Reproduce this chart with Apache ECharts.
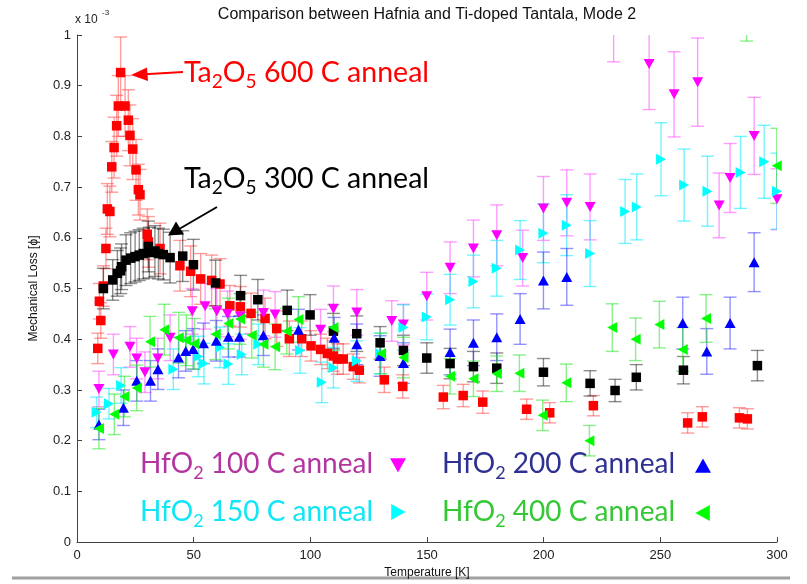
<!DOCTYPE html>
<html>
<head>
<meta charset="utf-8">
<script src="https://cdn.jsdelivr.net/npm/echarts@6/dist/echarts.min.js"></script>
<style>
  html, body { margin: 0; padding: 0; background: #fff; }
  #chart { width: 807px; height: 584px; }
</style>
</head>
<body>
<div id="chart"></div>
<script>
// Mechanical loss (units of 1e-3) vs temperature, with symmetric error half-widths.

// Ta2O5, 600 C anneal
const ta600T = [8.9, 9.6, 10.2, 11.3, 12.4, 13.0, 14.1, 14.9, 15.9, 17.0, 17.7, 18.7, 20.6, 22.0, 22.7, 23.9, 25.3, 26.3, 27.0, 30.1, 30.6, 35.6, 44.1, 48.7, 53.0, 57.7, 61.3, 65.5, 70.0, 74.6, 80.6, 85.6, 91.0, 96.3, 100.3, 104.4, 107.3, 109.9, 111.6, 114.1, 118.4, 121.0, 131.7, 139.6, 157.0, 165.5, 173.9, 192.7, 202.6, 221.3, 261.7, 268.0, 283.9, 287.3];
const ta600V = [0.382, 0.475, 0.437, 0.505, 0.579, 0.657, 0.652, 0.740, 0.778, 0.821, 0.860, 0.926, 0.860, 0.832, 0.802, 0.775, 0.734, 0.695, 0.685, 0.607, 0.592, 0.579, 0.545, 0.534, 0.519, 0.516, 0.509, 0.466, 0.464, 0.451, 0.441, 0.421, 0.401, 0.401, 0.387, 0.380, 0.372, 0.367, 0.361, 0.361, 0.346, 0.339, 0.320, 0.307, 0.286, 0.289, 0.276, 0.262, 0.255, 0.269, 0.235, 0.247, 0.245, 0.243];
const ta600E = [0.03, 0.035, 0.035, 0.04, 0.04, 0.05, 0.05, 0.05, 0.06, 0.06, 0.06, 0.07, 0.06, 0.06, 0.06, 0.06, 0.06, 0.05, 0.05, 0.05, 0.05, 0.05, 0.05, 0.05, 0.05, 0.05, 0.05, 0.04, 0.04, 0.04, 0.04, 0.035, 0.035, 0.035, 0.03, 0.03, 0.03, 0.03, 0.03, 0.03, 0.025, 0.025, 0.025, 0.023, 0.023, 0.022, 0.022, 0.02, 0.02, 0.02, 0.02, 0.02, 0.02, 0.02];

// Ta2O5, 300 C anneal
const ta300T = [11.3, 15.3, 17.3, 18.7, 19.1, 21.0, 23.0, 24.9, 26.7, 28.4, 30.6, 31.0, 33.4, 34.9, 37.0, 39.9, 45.3, 49.9, 59.4, 70.1, 77.5, 90.1, 99.9, 109.9, 119.9, 129.9, 139.9, 149.9, 159.9, 169.9, 179.9, 199.9, 219.9, 230.6, 239.7, 259.9, 291.6];
const ta300V = [0.500, 0.517, 0.530, 0.535, 0.543, 0.556, 0.560, 0.563, 0.566, 0.569, 0.583, 0.571, 0.574, 0.569, 0.567, 0.561, 0.564, 0.547, 0.511, 0.486, 0.478, 0.457, 0.448, 0.416, 0.411, 0.393, 0.378, 0.363, 0.352, 0.346, 0.343, 0.335, 0.313, 0.299, 0.325, 0.339, 0.348];
const ta300E = [0.04, 0.04, 0.045, 0.045, 0.045, 0.05, 0.05, 0.05, 0.05, 0.05, 0.05, 0.05, 0.05, 0.05, 0.05, 0.05, 0.05, 0.05, 0.045, 0.04, 0.04, 0.04, 0.04, 0.035, 0.035, 0.032, 0.03, 0.03, 0.03, 0.03, 0.03, 0.027, 0.025, 0.022, 0.025, 0.027, 0.03];

// HfO2, 100 C anneal
const hf100T = [9.4, 15.6, 22.7, 25.6, 29.1, 34.6, 39.9, 49.4, 54.9, 59.9, 64.5, 70.0, 79.9, 84.9, 104.4, 109.9, 119.9, 134.9, 139.9, 149.9, 159.9, 169.9, 179.9, 191.0, 199.9, 209.9, 219.9, 230.0, 245.2, 255.9, 266.0, 275.2, 279.9, 290.2, 300.0];
const hf100V = [0.302, 0.370, 0.385, 0.362, 0.335, 0.362, 0.403, 0.455, 0.465, 0.455, 0.450, 0.445, 0.452, 0.449, 0.419, 0.460, 0.453, 0.436, 0.429, 0.485, 0.541, 0.579, 0.605, 0.560, 0.658, 0.669, 0.661, 1.040, 0.943, 0.883, 0.907, 0.664, 0.718, 0.801, 0.676];
const hf100E = [0.035, 0.04, 0.04, 0.04, 0.04, 0.04, 0.045, 0.045, 0.045, 0.045, 0.045, 0.045, 0.045, 0.045, 0.04, 0.045, 0.045, 0.04, 0.04, 0.047, 0.051, 0.056, 0.06, 0.055, 0.063, 0.065, 0.065, 0.093, 0.09, 0.084, 0.087, 0.064, 0.068, 0.076, 0.06];

// HfO2, 150 C anneal
const hf150T = [8.4, 13.7, 18.9, 41.3, 52.0, 54.4, 61.3, 64.9, 70.6, 77.7, 95.6, 104.9, 109.9, 119.9, 129.9, 139.9, 149.9, 159.9, 169.9, 179.9, 189.9, 199.9, 209.9, 219.9, 234.9, 239.9, 250.3, 260.2, 270.2, 284.4, 294.5, 300.0];
const hf150V = [0.256, 0.273, 0.309, 0.341, 0.366, 0.352, 0.384, 0.351, 0.370, 0.390, 0.378, 0.315, 0.344, 0.357, 0.372, 0.423, 0.444, 0.478, 0.514, 0.540, 0.576, 0.609, 0.625, 0.569, 0.652, 0.661, 0.755, 0.704, 0.692, 0.729, 0.750, 0.692];
const hf150E = [0.03, 0.03, 0.035, 0.04, 0.04, 0.04, 0.04, 0.04, 0.04, 0.04, 0.045, 0.04, 0.04, 0.04, 0.04, 0.045, 0.045, 0.05, 0.052, 0.055, 0.058, 0.058, 0.06, 0.065, 0.063, 0.065, 0.072, 0.071, 0.069, 0.071, 0.072, 0.075];

// HfO2, 200 C anneal
const hf200T = [9.4, 19.9, 25.6, 31.5, 34.7, 43.5, 46.6, 49.8, 54.2, 59.7, 64.9, 69.6, 79.9, 94.9, 110.2, 119.9, 129.9, 139.9, 159.9, 169.9, 179.9, 189.9, 199.9, 209.9, 259.6, 269.9, 279.9, 290.2];
const hf200V = [0.232, 0.265, 0.318, 0.318, 0.341, 0.364, 0.377, 0.381, 0.392, 0.397, 0.405, 0.405, 0.408, 0.419, 0.403, 0.390, 0.367, 0.353, 0.375, 0.393, 0.404, 0.440, 0.516, 0.523, 0.432, 0.376, 0.432, 0.552];
const hf200E = [0.03, 0.035, 0.04, 0.04, 0.04, 0.04, 0.04, 0.04, 0.04, 0.04, 0.04, 0.04, 0.04, 0.04, 0.04, 0.04, 0.04, 0.04, 0.045, 0.045, 0.046, 0.05, 0.056, 0.056, 0.051, 0.045, 0.051, 0.058];

// HfO2, 400 C anneal
const hf400T = [9.4, 16.0, 20.3, 25.6, 31.3, 37.4, 43.6, 46.9, 50.3, 59.4, 64.9, 69.9, 74.9, 79.9, 84.9, 89.9, 94.9, 109.9, 130.3, 139.9, 159.9, 169.9, 179.9, 189.6, 199.6, 209.7, 219.6, 229.4, 239.4, 249.6, 259.6, 269.6, 287.0, 299.9];
const hf400V = [0.224, 0.252, 0.287, 0.304, 0.395, 0.419, 0.403, 0.398, 0.391, 0.410, 0.431, 0.440, 0.408, 0.390, 0.385, 0.416, 0.439, 0.423, 0.372, 0.364, 0.327, 0.322, 0.332, 0.333, 0.250, 0.314, 0.200, 0.423, 0.400, 0.429, 0.380, 0.441, 1.050, 0.742];
const hf400E = [0.04, 0.04, 0.04, 0.045, 0.05, 0.05, 0.05, 0.05, 0.05, 0.05, 0.05, 0.05, 0.045, 0.045, 0.045, 0.045, 0.045, 0.045, 0.04, 0.04, 0.035, 0.035, 0.035, 0.036, 0.03, 0.037, 0.03, 0.047, 0.042, 0.046, 0.043, 0.047, 0.062, 0.074];

const xTicks = [0, 50, 100, 150, 200, 250, 300];
const yTicks = [0, 0.1, 0.2, 0.3, 0.4, 0.5, 0.6, 0.7, 0.8, 0.9, 1];

const SYM_DOWN = 'path://M0,0L10,0L5,9Z';
const SYM_UP = 'path://M5,0L10,9L0,9Z';
const SYM_RIGHT = 'path://M0,0L9,5L0,10Z';
const SYM_LEFT = 'path://M9,0L0,5L9,10Z';

const sets = [
  { name: 'Ta2O5 600 C', t: ta600T, v: ta600V, e: ta600E, color: '#ff0000', bar: 'rgba(255,60,60,0.5)', symbol: 'rect', size: 9.5 },
  { name: 'Ta2O5 300 C', t: ta300T, v: ta300V, e: ta300E, color: '#000000', bar: 'rgba(0,0,0,0.45)', symbol: 'rect', size: 9.5 },
  { name: 'HfO2 100 C', t: hf100T, v: hf100V, e: hf100E, color: '#ff00ff', bar: 'rgba(255,60,255,0.5)', symbol: SYM_DOWN, size: [11, 10] },
  { name: 'HfO2 150 C', t: hf150T, v: hf150V, e: hf150E, color: '#00ffff', bar: 'rgba(0,235,255,0.55)', symbol: SYM_RIGHT, size: [10, 11] },
  { name: 'HfO2 200 C', t: hf200T, v: hf200V, e: hf200E, color: '#0000ff', bar: 'rgba(40,40,255,0.5)', symbol: SYM_UP, size: [11, 10] },
  { name: 'HfO2 400 C', t: hf400T, v: hf400V, e: hf400E, color: '#00ff00', bar: 'rgba(40,230,40,0.55)', symbol: SYM_LEFT, size: [10, 11] }
];

function errorBarSeries(s) {
  return {
    type: 'custom',
    name: s.name + ' err',
    clip: true,
    silent: true,
    encode: { x: 0, y: 1 },
    data: s.t.map((t, i) => [t, s.v[i], s.e[i]]),
    renderItem: function (params, api) {
      const x = api.value(0), y = api.value(1), e = api.value(2);
      const hi = api.coord([x, y + e]);
      const lo = api.coord([x, y - e]);
      const cx = hi[0], hw = 6.5;
      const st = { stroke: s.bar, lineWidth: 1.4 };
      return {
        type: 'group',
        children: [
          { type: 'line', shape: { x1: cx, y1: hi[1], x2: cx, y2: lo[1] }, style: st },
          { type: 'line', shape: { x1: cx - hw, y1: hi[1], x2: cx + hw, y2: hi[1] }, style: st },
          { type: 'line', shape: { x1: cx - hw, y1: lo[1], x2: cx + hw, y2: lo[1] }, style: st }
        ]
      };
    }
  };
}

function markerSeries(s) {
  return {
    type: 'scatter',
    name: s.name,
    clip: true,
    silent: true,
    symbol: s.symbol,
    symbolSize: s.size,
    itemStyle: { color: s.color, opacity: 1 },
    data: s.t.map((t, i) => [t, s.v[i]])
  };
}

const series = [];
sets.forEach(s => { series.push(errorBarSeries(s)); series.push(markerSeries(s)); });

// Text with chemical subscripts, laid out piece by piece
const measureCtx = document.createElement('canvas').getContext('2d');
function formulaText(x, cy, parts, color, size, family) {
  const subSize = Math.round(size * 0.66);
  const children = [];
  let cursor = x;
  parts.forEach(p => {
    const isSub = p[1] === 1;
    const fs = isSub ? subSize : size;
    measureCtx.font = fs + 'px ' + family;
    const w = measureCtx.measureText(p[0]).width;
    children.push({
      type: 'text', x: cursor, y: isSub ? cy + size * 0.32 : cy,
      style: { text: p[0], fill: color, font: fs + 'px ' + family, textAlign: 'left', textVerticalAlign: 'middle' }
    });
    cursor += w;
  });
  return { type: 'group', children: children, silent: true };
}

const FAM = 'Lato, "Open Sans", sans-serif';
const BIG = 28.5;
const LEG = 28;

function tri(cx, cy, dir, color) {
  const s = 8;
  let pts;
  if (dir === 'down') pts = [[cx - s, cy - s * 0.85], [cx + s, cy - s * 0.85], [cx, cy + s * 0.95]];
  else if (dir === 'up') pts = [[cx, cy - s * 0.95], [cx + s, cy + s * 0.85], [cx - s, cy + s * 0.85]];
  else if (dir === 'right') pts = [[cx - s * 0.85, cy - s], [cx + s * 0.95, cy], [cx - s * 0.85, cy + s]];
  else pts = [[cx + s * 0.85, cy - s], [cx - s * 0.95, cy], [cx + s * 0.85, cy + s]];
  return { type: 'polygon', shape: { points: pts }, style: { fill: color }, silent: true };
}

const graphics = [
  { type: 'text', x: 427, y: 15, style: { text: 'Comparison between Hafnia and Ti-doped Tantala, Mode 2', font: '16px "Liberation Sans", Arial, sans-serif', fill: '#111', textAlign: 'center', textVerticalAlign: 'middle' } },
  { type: 'text', x: 75, y: 20, style: { text: 'x 10', font: '12px "Liberation Sans", Arial, sans-serif', fill: '#222', textAlign: 'left', textVerticalAlign: 'middle' } },
  { type: 'text', x: 102, y: 13, style: { text: '-3', font: '8px "Liberation Sans", Arial, sans-serif', fill: '#222', textAlign: 'left', textVerticalAlign: 'middle' } },
  formulaText(184, 73, [['Ta', 0], ['2', 1], ['O', 0], ['5', 1], [' 600 C anneal', 0]], '#ff0000', BIG, FAM),
  formulaText(184, 179, [['Ta', 0], ['2', 1], ['O', 0], ['5', 1], [' 300 C anneal', 0]], '#000000', BIG, FAM),
  { type: 'line', shape: { x1: 183, y1: 72, x2: 145, y2: 74.2 }, style: { stroke: '#ff0000', lineWidth: 2 }, silent: true },
  { type: 'polygon', shape: { points: [[131, 75], [147, 67.5], [148, 81]] }, style: { fill: '#ff0000' }, silent: true },
  { type: 'line', shape: { x1: 217, y1: 207, x2: 180, y2: 228.5 }, style: { stroke: '#000', lineWidth: 2 }, silent: true },
  { type: 'polygon', shape: { points: [[168, 235.5], [176, 221.5], [184, 234.5]] }, style: { fill: '#000' }, silent: true },
  formulaText(140, 464, [['HfO', 0], ['2', 1], [' 100 C anneal', 0]], '#b3359f', LEG, FAM),
  formulaText(442, 464, [['HfO', 0], ['2', 1], [' 200 C anneal', 0]], '#2e3192', LEG, FAM),
  formulaText(140, 512, [['HfO', 0], ['2', 1], [' 150 C anneal', 0]], '#10e6f5', LEG, FAM),
  formulaText(442, 512, [['HfO', 0], ['2', 1], [' 400 C anneal', 0]], '#35c835', LEG, FAM),
  tri(398, 465, 'down', '#ff00ff'),
  tri(703, 466, 'up', '#0000ff'),
  tri(398, 512, 'right', '#00ffff'),
  tri(703, 513, 'left', '#00ff00'),
  { type: 'line', shape: { x1: 12, y1: 578, x2: 790, y2: 578 }, style: { stroke: '#a0a0a0', lineWidth: 3 }, silent: true }
];

const axisFont = '"Liberation Sans", Arial, sans-serif';
const chart = echarts.init(document.getElementById('chart'), null, { renderer: 'canvas' });
chart.setOption({
  animation: false,
  backgroundColor: '#ffffff',
  grid: { left: 77, right: 30, top: 35, bottom: 38, containLabel: false },
  xAxis: {
    type: 'value', min: xTicks[0], max: xTicks[xTicks.length - 1], interval: xTicks[1] - xTicks[0],
    name: 'Temperature [K]', nameLocation: 'middle', nameGap: 23,
    nameTextStyle: { fontFamily: axisFont, fontSize: 12, color: '#111' },
    axisLine: { lineStyle: { color: '#444', width: 1 } },
    axisTick: { inside: true, length: 5, lineStyle: { color: '#444' } },
    axisLabel: { fontFamily: axisFont, fontSize: 13, color: '#222', margin: 7 },
    splitLine: { show: false }
  },
  yAxis: {
    type: 'value', min: yTicks[0], max: yTicks[yTicks.length - 1], interval: 0.1,
    name: 'Mechanical Loss [ϕ]', nameLocation: 'middle', nameGap: 37, nameRotate: 90,
    nameTextStyle: { fontFamily: axisFont, fontSize: 12, color: '#111' },
    axisLine: { show: true, lineStyle: { color: '#444', width: 1 } },
    axisTick: { show: true, inside: true, length: 5, lineStyle: { color: '#444' } },
    axisLabel: { fontFamily: axisFont, fontSize: 13, color: '#222', margin: 6, formatter: v => String(+v.toFixed(1)) },
    splitLine: { show: false }
  },
  series: series,
  graphic: graphics
});
</script>
</body>
</html>
